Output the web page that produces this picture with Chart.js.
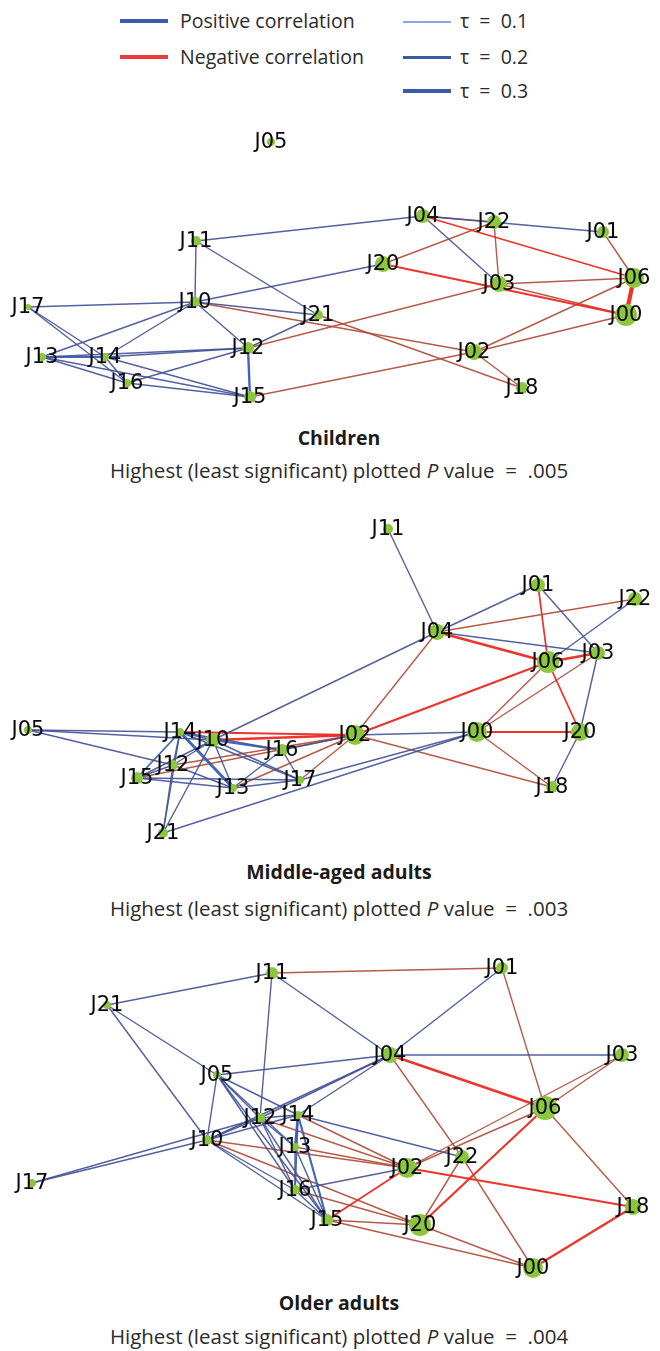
<!DOCTYPE html>
<html>
<head>
<meta charset="utf-8">
<script src="https://cdn.jsdelivr.net/npm/chart.js@4.4.1/dist/chart.umd.min.js"></script>
<style>
  html, body { margin: 0; padding: 0; background: #fff; }
  body { width: 660px; height: 1351px; position: relative; overflow: hidden;
         font-family: "Open Sans", "Noto Sans", sans-serif; color: #2b2b2b; }
  .panel { position: absolute; left: 0; width: 660px; }
  .legend { position: absolute; font-size: 19.5px; white-space: pre; line-height: 22px; }
  .swatch { position: absolute; width: 48px; }
  .cap { position: absolute; left: 0; width: 678px; text-align: center; white-space: pre; line-height: 24px; }
  .cap.title { font-weight: bold; font-size: 19.5px; color: #1a1a1a; }
  .cap.sub { font-size: 20.5px; color: #2b2b2b; }
</style>
</head>
<body>

<!-- legend: sign of the correlation and edge width scale -->
<div class="swatch" style="left:120px;top:19px;height:4px;background:#3a5ba8;"></div>
<div class="legend" style="left:180px;top:10px;">Positive correlation</div>
<div class="swatch" style="left:120px;top:55px;height:4px;background:#ec3b3b;"></div>
<div class="legend" style="left:180px;top:46px;">Negative correlation</div>
<div class="swatch" style="left:403px;top:21px;height:2px;background:#8aa6e0;"></div>
<div class="legend" style="left:460px;top:10px;">τ  =  0.1</div>
<div class="swatch" style="left:403px;top:56px;height:3px;background:#3a5ba8;"></div>
<div class="legend" style="left:460px;top:46px;">τ  =  0.2</div>
<div class="swatch" style="left:403px;top:89px;height:4px;background:#3a5ba8;"></div>
<div class="legend" style="left:460px;top:80px;">τ  =  0.3</div>

<div class="panel" style="top:105px;height:310px;"><canvas id="children" width="660" height="310"></canvas></div>
<div class="cap title" style="top:426px;">Children</div>
<div class="cap sub" style="top:458px;">Highest (least significant) plotted <i>P</i> value  =  .005</div>

<div class="panel" style="top:505px;height:345px;"><canvas id="middle" width="660" height="345"></canvas></div>
<div class="cap title" style="top:860px;">Middle-aged adults</div>
<div class="cap sub" style="top:896px;">Highest (least significant) plotted <i>P</i> value  =  .003</div>

<div class="panel" style="top:950px;height:335px;"><canvas id="older" width="660" height="335"></canvas></div>
<div class="cap title" style="top:1291px;">Older adults</div>
<div class="cap sub" style="top:1324px;">Highest (least significant) plotted <i>P</i> value  =  .004</div>

<script>
// ---- Node layouts: [name, x, y, node radius] in each panel's layout space ----
const childrenNodes = [
  ['J00', 626, 210, 11], ['J01', 603, 127, 6], ['J02', 474, 247, 8], ['J03', 499, 179, 8],
  ['J04', 423, 111, 7], ['J05', 271, 37, 4], ['J06', 634, 173, 10], ['J10', 195, 197, 5],
  ['J11', 196, 136, 5], ['J12', 248, 243, 6], ['J13', 42, 252, 4], ['J14', 105, 252, 4],
  ['J15', 250, 292, 6], ['J16', 127, 278, 4], ['J17', 28, 202, 3], ['J18', 522, 283, 6],
  ['J20', 383, 159, 8], ['J21', 318, 210, 5], ['J22', 494, 117, 7]
];
const middleNodes = [
  ['J00', 477, 227, 10], ['J01', 538, 80, 7], ['J02', 355, 230, 10], ['J03', 598, 148, 7],
  ['J04', 437, 127, 8], ['J05', 28, 225, 4], ['J06', 548, 157, 11], ['J10', 213, 235, 7],
  ['J11', 388, 24, 5], ['J12', 173, 260, 5], ['J13', 233, 283, 4], ['J14', 180, 227, 4],
  ['J15', 137, 273, 6], ['J16', 282, 245, 6], ['J17', 300, 275, 4], ['J18', 552, 282, 6],
  ['J20', 580, 227, 9], ['J21', 163, 328, 5], ['J22', 635, 94, 7]
];
const olderNodes = [
  ['J00', 533, 318, 10], ['J01', 502, 18, 6], ['J02', 407, 218, 10], ['J03', 622, 105, 7],
  ['J04', 390, 105, 8], ['J05', 217, 125, 4], ['J06', 545, 158, 12], ['J10', 207, 190, 5],
  ['J11', 272, 23, 6], ['J12', 260, 168, 5], ['J13', 295, 197, 4], ['J14', 298, 165, 4],
  ['J15', 327, 270, 6], ['J16', 295, 240, 5], ['J17', 32, 233, 4], ['J18', 633, 257, 8],
  ['J20', 420, 275, 11], ['J21', 107, 55, 4], ['J22', 462, 207, 7]
];

// ---- Edges: [node, node, Kendall tau] (sign gives the direction of the correlation) ----
const childrenEdges = [
  ['J11','J04',0.10], ['J11','J10',0.10], ['J11','J21',0.12], ['J10','J20',0.10],
  ['J10','J17',0.10], ['J10','J21',0.12], ['J10','J12',0.12], ['J10','J13',0.12],
  ['J10','J14',0.12], ['J21','J12',0.10], ['J12','J13',0.14], ['J12','J14',0.14],
  ['J12','J15',0.20], ['J12','J16',0.10], ['J17','J14',0.10], ['J17','J16',0.10],
  ['J13','J14',0.18], ['J13','J15',0.10], ['J13','J16',0.10], ['J14','J15',0.10],
  ['J14','J16',0.12], ['J16','J15',0.12], ['J04','J03',0.12], ['J04','J01',0.10],
  ['J04','J22',-0.12], ['J04','J06',-0.15], ['J22','J20',-0.10], ['J22','J03',-0.10],
  ['J01','J06',-0.10], ['J20','J00',-0.18], ['J03','J00',-0.12], ['J03','J06',-0.10],
  ['J06','J00',-0.35], ['J02','J06',-0.12], ['J02','J00',-0.14], ['J02','J18',-0.10],
  ['J10','J02',-0.10], ['J12','J03',-0.10], ['J21','J18',-0.10], ['J15','J02',-0.10]
];
const middleEdges = [
  ['J11','J04',0.10], ['J04','J01',0.12], ['J01','J03',0.12], ['J22','J06',0.10],
  ['J04','J03',0.10], ['J03','J20',0.12], ['J20','J18',0.10], ['J04','J10',0.12],
  ['J02','J00',0.10], ['J00','J17',0.10], ['J21','J00',0.10], ['J05','J14',0.12],
  ['J05','J10',0.10], ['J05','J12',0.10], ['J14','J13',0.25], ['J14','J15',0.15],
  ['J14','J12',0.12], ['J14','J21',0.10], ['J14','J16',0.12], ['J14','J17',0.12],
  ['J14','J10',0.15], ['J10','J15',0.12], ['J10','J12',0.12], ['J10','J13',0.10],
  ['J10','J16',0.15], ['J10','J17',0.12], ['J10','J21',0.12], ['J12','J15',0.12],
  ['J12','J13',0.10], ['J12','J21',0.10], ['J15','J13',0.12], ['J15','J17',0.10],
  ['J16','J13',0.12], ['J16','J17',0.10], ['J13','J17',0.10], ['J16','J02',0.10],
  ['J10','J02',-0.20], ['J14','J02',-0.15], ['J12','J02',-0.12], ['J15','J02',-0.12],
  ['J13','J02',-0.10], ['J17','J02',-0.10], ['J04','J22',-0.12], ['J04','J06',-0.22],
  ['J01','J06',-0.15], ['J06','J03',-0.22], ['J06','J02',-0.20], ['J06','J20',-0.15],
  ['J06','J00',-0.10], ['J03','J00',-0.10], ['J00','J20',-0.18], ['J00','J18',-0.10],
  ['J02','J18',-0.10], ['J04','J02',-0.10]
];
const olderEdges = [
  ['J21','J11',0.10], ['J21','J05',0.10], ['J21','J10',0.12], ['J11','J12',0.10],
  ['J11','J04',0.12], ['J01','J04',0.12], ['J04','J03',0.10], ['J05','J04',0.10],
  ['J05','J10',0.12], ['J05','J12',0.10], ['J05','J14',0.10], ['J05','J13',0.10],
  ['J05','J16',0.10], ['J05','J15',0.10], ['J17','J10',0.10], ['J17','J12',0.10],
  ['J10','J04',0.14], ['J12','J04',0.12], ['J14','J04',0.10], ['J10','J12',0.12],
  ['J10','J14',0.12], ['J12','J14',0.12], ['J14','J13',0.20], ['J14','J16',0.15],
  ['J14','J15',0.18], ['J13','J16',0.12], ['J13','J15',0.12], ['J16','J15',0.12],
  ['J12','J16',0.10], ['J12','J15',0.10], ['J12','J13',0.10], ['J10','J16',0.10],
  ['J10','J15',0.10], ['J14','J22',0.10], ['J16','J02',0.10],
  ['J11','J01',-0.10], ['J01','J06',-0.10], ['J04','J06',-0.22], ['J04','J22',-0.10],
  ['J22','J00',-0.10], ['J06','J03',-0.10], ['J03','J02',-0.10], ['J06','J02',-0.10],
  ['J06','J18',-0.10], ['J06','J20',-0.18], ['J02','J18',-0.15], ['J22','J20',-0.12],
  ['J02','J15',-0.15], ['J18','J00',-0.20], ['J20','J00',-0.10], ['J15','J00',-0.10],
  ['J15','J20',-0.10], ['J10','J02',-0.12], ['J10','J20',-0.10], ['J12','J02',-0.10],
  ['J14','J02',-0.12], ['J13','J02',-0.10], ['J16','J20',-0.10]
];

const NODE_COLOR = '#8cc63e';

function edgeColor(tau) {
  const a = Math.abs(tau);
  if (tau > 0) return a >= 0.15 ? 'rgba(58,94,182,0.95)' : 'rgba(68,84,150,0.92)';
  return a >= 0.15 ? 'rgba(236,42,34,0.95)' : 'rgba(176,76,58,0.92)';
}

function edgeWidth(tau) {
  return Math.max(1.4, Math.abs(tau) * 12);
}

// node names drawn centred on each node
const nodeLabels = {
  id: 'nodeLabels',
  afterDatasetsDraw(chart) {
    const { ctx, scales } = chart;
    const nodes = chart.options.plugins.nodeLabels.nodes;
    ctx.save();
    ctx.font = '21px "DejaVu Sans"';
    ctx.fillStyle = '#0a0a0a';
    ctx.textAlign = 'center';
    ctx.textBaseline = 'middle';
    nodes.forEach(([name, x, y]) => {
      ctx.fillText(name, scales.x.getPixelForValue(x), scales.y.getPixelForValue(y) + 1);
    });
    ctx.restore();
  }
};

function drawNetwork(canvasId, nodes, edges, height) {
  const pos = {};
  nodes.forEach(([n, x, y]) => { pos[n] = { x, y }; });
  const edgeSets = edges.map(([a, b, tau]) => ({
    type: 'scatter',
    data: [pos[a], pos[b]],
    showLine: true,
    borderColor: edgeColor(tau),
    borderWidth: edgeWidth(tau),
    pointRadius: 0,
    order: 1
  }));
  const nodeSet = {
    type: 'scatter',
    data: nodes.map(([n, x, y]) => ({ x, y })),
    pointRadius: nodes.map(n => n[3]),
    pointBackgroundColor: NODE_COLOR,
    pointBorderWidth: 0,
    order: 0
  };
  new Chart(document.getElementById(canvasId), {
    type: 'scatter',
    data: { datasets: [...edgeSets, nodeSet] },
    options: {
      responsive: false,
      animation: false,
      devicePixelRatio: 1,
      layout: { padding: 0, autoPadding: false },
      scales: {
        x: { type: 'linear', min: 0, max: 660, display: false },
        y: { type: 'linear', min: 0, max: height, reverse: true, display: false }
      },
      plugins: {
        legend: { display: false },
        tooltip: { enabled: false },
        nodeLabels: { nodes }
      }
    },
    plugins: [nodeLabels]
  });
}

drawNetwork('children', childrenNodes, childrenEdges, 310);
drawNetwork('middle', middleNodes, middleEdges, 345);
drawNetwork('older', olderNodes, olderEdges, 335);
</script>
</body>
</html>
